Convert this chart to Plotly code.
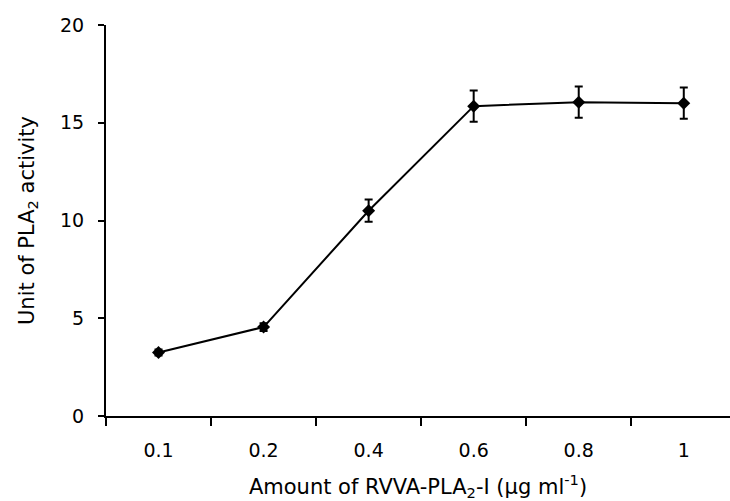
import plotly.graph_objects as go

doses = ["0.1", "0.2", "0.4", "0.6", "0.8", "1"]
activity = [3.25, 4.55, 10.5, 15.85, 16.05, 16.0]
errors = [0.15, 0.2, 0.57, 0.8, 0.8, 0.8]
y_ticks = [0, 5, 10, 15, 20]

FONT = "'DejaVu Sans', sans-serif"

fig = go.Figure()
fig.add_trace(go.Scatter(
    x=doses, y=activity,
    mode="lines+markers",
    line=dict(color="black", width=2),
    marker=dict(symbol="diamond", size=10, color="black"),
    error_y=dict(type="data", array=errors, visible=True,
                 color="black", thickness=2, width=4),
    showlegend=False,
))

fig.update_layout(
    width=730, height=501,
    margin=dict(l=106, r=0, t=25, b=85),
    paper_bgcolor="white", plot_bgcolor="white",
    font=dict(family=FONT, size=20, color="black"),
)
fig.update_xaxes(
    type="category", categoryorder="array", categoryarray=doses,
    range=[-0.5, 5.44],
    tickson="boundaries",
    ticks="outside", ticklen=8, tickwidth=2, tickcolor="black",
    ticklabelstandoff=16,
    showline=True, linecolor="black", linewidth=2,
    showgrid=False, zeroline=False,
    tickfont=dict(family=FONT, size=19, color="black"),
    title=dict(text="Amount of RVVA-PLA<sub>2</sub>-I (μg ml<sup>-1</sup>)",
               font=dict(family=FONT, size=21, color="black"), standoff=22),
)
fig.update_yaxes(
    range=[0, 20], tickvals=y_ticks,
    ticks="outside", ticklen=6, tickwidth=2, tickcolor="black",
    ticklabelstandoff=10,
    showline=True, linecolor="black", linewidth=2,
    showgrid=False, zeroline=False,
    tickfont=dict(family=FONT, size=19, color="black"),
    title=dict(text="Unit of PLA<sub>2</sub> activity",
               font=dict(family=FONT, size=21, color="black"), standoff=20),
)

fig.write_html("out.html")
